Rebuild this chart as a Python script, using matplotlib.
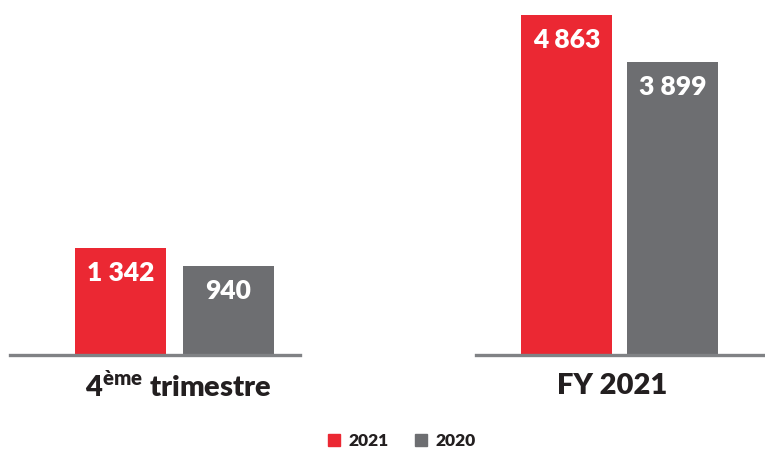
import matplotlib
matplotlib.use("Agg")
import matplotlib.pyplot as plt
from matplotlib.patches import Patch

# data
groups = ["4$^{\\mathrm{ème}}$ trimestre", "FY 2021"]
series = ["2021", "2020"]
values_2021 = [1342, 4863]
values_2020 = [940, 3899]

red = "#EB2833"
grey = "#6D6E71"
dark = "#231F20"

plt.rcParams["font.family"] = ["Lato", "DejaVu Sans"]
plt.rcParams["font.weight"] = "heavy"
plt.rcParams["mathtext.fontset"] = "custom"
plt.rcParams["mathtext.rm"] = "Lato:heavy"

W, H = 765, 451
fig = plt.figure(figsize=(W / 100, H / 100), dpi=100)

# per group: axes x-span in px, xlim, bar width, y-axis floor
layout = [
    dict(x0=10, x1=300, xlim=(-1.023, 1.662), width=0.843, ymin=-1048, scale=0.0448),
    dict(x0=476, x1=765, xlim=(-0.854, 1.873), width=0.86, ymin=-2110, scale=0.04876),
]
label_x = [178, 612]
base_px = 355
top_px = 5

for i, lay in enumerate(layout):
    ax_h = base_px - top_px
    ax = fig.add_axes([lay["x0"] / W, (H - base_px) / H, (lay["x1"] - lay["x0"]) / W, ax_h / H])
    ymin = lay["ymin"]
    ax.set_ylim(ymin, ymin + ax_h / lay["scale"])
    ax.set_xlim(*lay["xlim"])
    vals = [values_2021[i], values_2020[i]]
    ax.bar([0, 1], [v - ymin for v in vals], bottom=ymin, width=lay["width"],
           color=[red, grey], zorder=2)
    for x, v in zip([0, 1], vals):
        ax.annotate(f"{v:,}".replace(",", " "), (x, v), xytext=(0, -18), textcoords="offset points",
                    ha="center", va="center", color="white", fontsize=19, fontweight="heavy")
    ax.axhline(ymin, color="#808285", lw=2.4, zorder=3, clip_on=False)
    ax.axis("off")
    fig.text(label_x[i] / W, (H - 386) / H, groups[i], ha="center", va="center", fontsize=21,
             fontweight="heavy", color=dark)

handles = [Patch(color=red), Patch(color=grey)]
fig.legend(handles, series, loc="center", bbox_to_anchor=(402 / W, (H - 441) / H), ncol=2,
           frameon=False, handlelength=0.7, handleheight=0.7, handletextpad=0.5,
           columnspacing=1.5, prop=dict(size=12.5, weight="heavy"), labelcolor=dark)

fig.savefig("out.png", dpi=100)
